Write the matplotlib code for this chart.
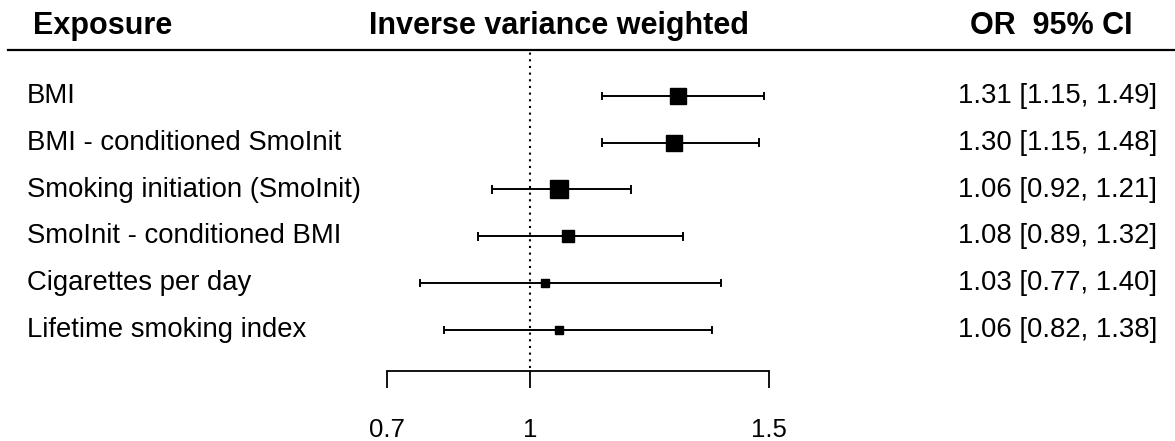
import matplotlib
matplotlib.use('Agg')
import matplotlib.pyplot as plt
from matplotlib.lines import Line2D

plt.rcParams['font.family'] = ['Liberation Sans', 'DejaVu Sans']

# Data
exposures = ['BMI', 'BMI - conditioned SmoInit', 'Smoking initiation (SmoInit)',
             'SmoInit - conditioned BMI', 'Cigarettes per day', 'Lifetime smoking index']
or_vals = [1.31, 1.30, 1.06, 1.08, 1.03, 1.06]
ci_low = [1.15, 1.15, 0.92, 0.89, 0.77, 0.82]
ci_high = [1.49, 1.48, 1.21, 1.32, 1.40, 1.38]
weights = [0.83, 0.89, 1.00, 0.66, 0.39, 0.42]   # relative box size
xticks = [0.7, 1, 1.5]

W, H = 1175, 441
fig = plt.figure(figsize=(W / 100, H / 100), dpi=100)

# forest panel: x 0.7..1.5 -> px 387..769, y px 50..371
ax = fig.add_axes([387 / W, 1 - 371 / H, (769 - 387) / W, (371 - 50) / H])
ax.set_xlim(0.7, 1.5)
ax.set_ylim(5.88, -0.98)

rows = range(len(exposures))
for i in rows:
    ax.plot([ci_low[i], ci_high[i]], [i, i], color='black', lw=1.4, solid_capstyle='butt')
    for xe in (ci_low[i], ci_high[i]):
        ax.plot([xe, xe], [i - 0.07, i + 0.07], color='black', lw=1.4)
    ax.plot(or_vals[i], i, marker='s', color='black', markersize=13.5 * weights[i], ls='none', zorder=3)

ax.axvline(1, ymin=0.01, ymax=1, color='black', ls=(0, (1, 2.2)), lw=1.5, zorder=1)

for s in ['top', 'left', 'right']:
    ax.spines[s].set_visible(False)
ax.spines['bottom'].set_bounds(0.7, 1.5)
ax.spines['bottom'].set_linewidth(1.3)
ax.set_yticks([])
ax.set_xticks(xticks)
ax.set_xticklabels(['0.7', '1', '1.5'], fontsize=18.5)
ax.tick_params(axis='x', direction='out', length=12.5, width=1.3, pad=21)
ax.patch.set_alpha(0)

# text columns
for i in rows:
    yf = 1 - (96 + i * 46.8) / H
    fig.text(27 / W, yf, exposures[i], fontsize=19.8, va='center', ha='left')
    fig.text(1157 / W, yf, f'{or_vals[i]:.2f} [{ci_low[i]:.2f}, {ci_high[i]:.2f}]',
             fontsize=19.8, va='center', ha='right')

hy = 1 - 26 / H
fig.text(33 / W, hy, 'Exposure', fontsize=22, fontweight='bold', va='center', ha='left')
fig.text(559 / W, hy, 'Inverse variance weighted', fontsize=22, fontweight='bold',
         va='center', ha='center')
fig.text(1133 / W, hy, 'OR  95% CI', fontsize=22, fontweight='bold', va='center', ha='right')

fig.add_artist(Line2D([8 / W, 1], [1 - 50 / H, 1 - 50 / H], color='black', lw=1.6))

fig.savefig('out.png', dpi=100)
